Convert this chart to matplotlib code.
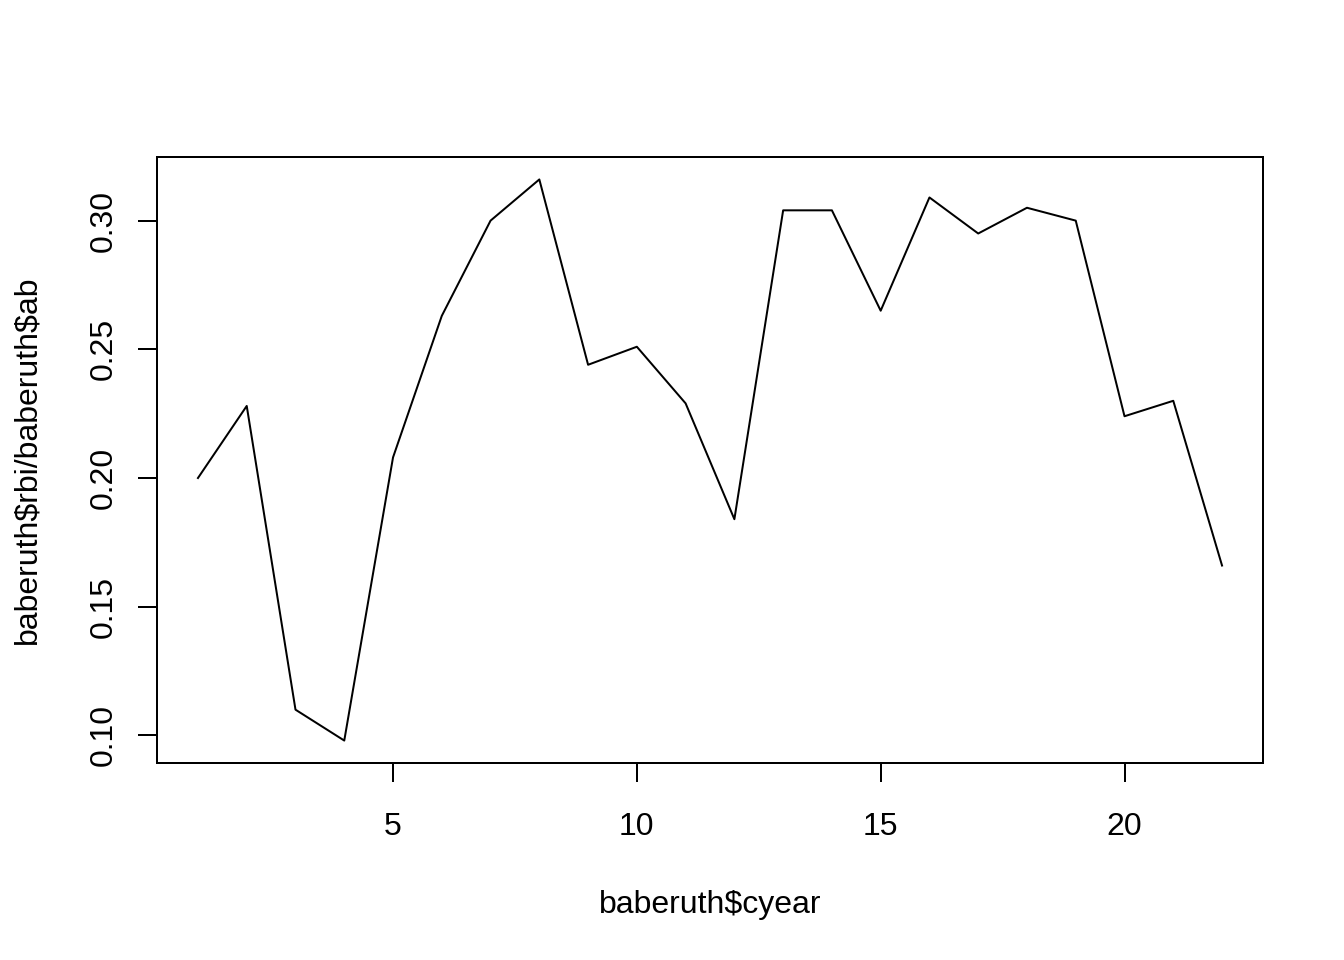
import matplotlib
matplotlib.use("Agg")
import matplotlib.pyplot as plt

# career year and rbi per at-bat
cyear = list(range(1, 23))
rbi_per_ab = [0.200, 0.228, 0.110, 0.098, 0.208, 0.263, 0.300, 0.316,
              0.244, 0.251, 0.229, 0.184, 0.304, 0.304, 0.265, 0.309,
              0.295, 0.305, 0.300, 0.224, 0.230, 0.166]
xticks = [5, 10, 15, 20]
yticks = [0.10, 0.15, 0.20, 0.25, 0.30]

plt.rcParams['font.family'] = ['Liberation Sans', 'DejaVu Sans']
plt.rcParams['font.size'] = 12

fig = plt.figure(figsize=(7, 5), dpi=192)
ax = fig.add_axes([157/1344, 1 - 763/960, (1263-157)/1344, (763-157)/960])

ax.plot(cyear, rbi_per_ab, color='black', linewidth=0.75)

# R style 4% padding
xr = max(cyear) - min(cyear)
yr = max(rbi_per_ab) - min(rbi_per_ab)
ax.set_xlim(min(cyear) - 0.04 * xr, max(cyear) + 0.04 * xr)
ax.set_ylim(min(rbi_per_ab) - 0.04 * yr, max(rbi_per_ab) + 0.04 * yr)

ax.set_xticks(xticks)
ax.set_yticks(yticks)
ax.set_yticklabels([f"{v:.2f}" for v in yticks], rotation=90, va='center')
ax.tick_params(length=7.2, width=0.75, labelsize=12)
ax.tick_params(axis='x', pad=11)
ax.tick_params(axis='y', pad=7)
for s in ax.spines.values():
    s.set_linewidth(0.75)

ax.set_xlabel(r"baberuth\$cyear", labelpad=18)
ax.set_ylabel(r"baberuth\$rbi/baberuth\$ab", labelpad=17.5)

fig.savefig("out.png", dpi=192)
